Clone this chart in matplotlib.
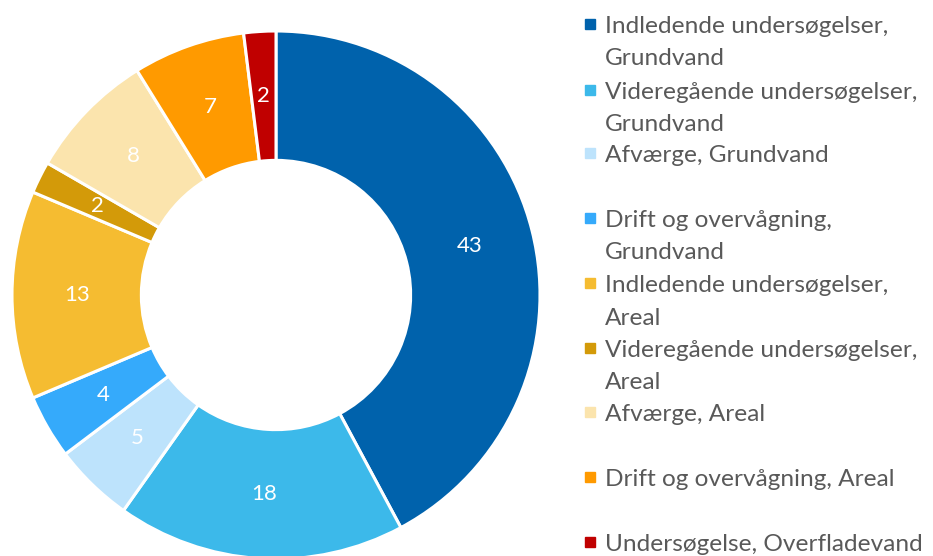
#!/usr/bin/env python3
"""Donut chart of investigation categories (groundwater / area / surface water)."""

import matplotlib
matplotlib.use('Agg')
import matplotlib.pyplot as plt

# data, clockwise from 12 o'clock
categories = [
    "Indledende undersøgelser, Grundvand",
    "Videregående undersøgelser, Grundvand",
    "Afværge, Grundvand",
    "Drift og overvågning, Grundvand",
    "Indledende undersøgelser, Areal",
    "Videregående undersøgelser, Areal",
    "Afværge, Areal",
    "Drift og overvågning, Areal",
    "Undersøgelse, Overfladevand",
]
values = [43, 18, 5, 4, 13, 2, 8, 7, 2]

# legend lines as they wrap in the reference
legend_lines = [
    ["Indledende undersøgelser,", "Grundvand"],
    ["Videregående undersøgelser,", "Grundvand"],
    ["Afværge, Grundvand"],
    ["Drift og overvågning,", "Grundvand"],
    ["Indledende undersøgelser,", "Areal"],
    ["Videregående undersøgelser,", "Areal"],
    ["Afværge, Areal"],
    ["Drift og overvågning, Areal"],
    ["Undersøgelse, Overfladevand"],
]

colors = ['#0062AC', '#3CB9EA', '#BDE3FC', '#35AAFB', '#F5BC31',
          '#D39A09', '#FBE4AD', '#FF9A00', '#C00000']

W, H = 933, 556
plt.rcParams['font.family'] = ['Lato', 'DejaVu Sans']

fig = plt.figure(figsize=(W / 100, H / 100), dpi=100)
ax = fig.add_axes([0, 0, 1, 1])

# pie centre / radius in pixels
cx, cy, R = 276, 295, 264
inner = 0.51

wedges, texts = ax.pie(values, colors=colors, startangle=90, counterclock=False,
                       radius=1.0, labels=[str(v) for v in values],
                       labeldistance=(1 + inner) / 2,
                       wedgeprops=dict(width=1 - inner, edgecolor='white', linewidth=2.2),
                       textprops=dict(color='white', fontsize=16, ha='center', va='center'))

ax.set_aspect('auto')
ax.set_xlim(-cx / R, (W - cx) / R)
ax.set_ylim(-(H - cy) / R, cy / R)
ax.axis('off')

# legend, placed by hand like the original
def px(x, y):
    return x / W, 1 - y / H

marker_y = [24, 90, 153, 218, 283, 348, 412, 477, 542]
baselines = [[33, 65], [99, 131], [162], [227, 259], [292, 325], [357, 389],
             [421], [486], [551]]
text_color = '#595959'

for color, my, lines, bls in zip(colors, marker_y, legend_lines, baselines):
    x0, y0 = px(585, my + 5)
    fig.patches.append(plt.Rectangle((x0, y0), 10 / W, 10 / H, color=color,
                                     transform=fig.transFigure, figure=fig))
    for line, bl in zip(lines, bls):
        fig.text(*px(605, bl), line, fontsize=17.6, color=text_color,
                 ha='left', va='baseline')

fig.savefig('out.png', dpi=100)
plt.close(fig)
